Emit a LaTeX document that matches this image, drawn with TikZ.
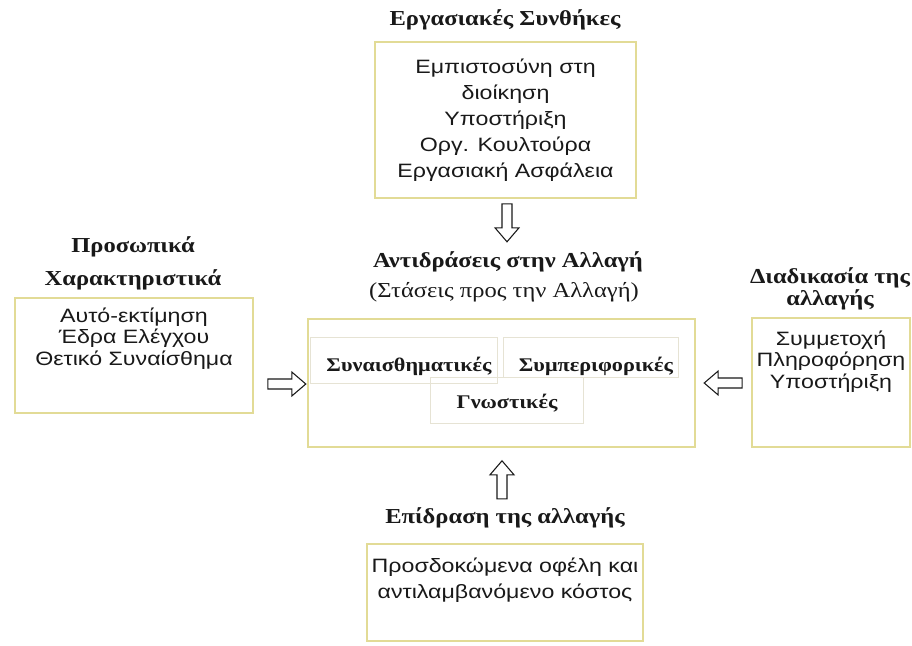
\documentclass[tikz,border=0pt]{standalone}
\usepackage{fontspec}
\setmainfont{Liberation Serif}[FakeStretch=1.15]
\newfontfamily\bodyfont{Liberation Sans}[FakeStretch=1.2]
\usetikzlibrary{calc}
\definecolor{boxyellow}{RGB}{226,219,150}
\definecolor{innergray}{RGB}{230,227,212}
\definecolor{ink}{RGB}{25,25,25}
\begin{document}
\begin{tikzpicture}[x=0.75pt,y=-0.75pt,
  outerbox/.style={draw=boxyellow, line width=1.2pt, inner sep=0pt, anchor=center},
  innerbox/.style={draw=innergray, line width=0.6pt, inner sep=0pt, anchor=center},
  ttl/.style={font=\fontsize{16}{19}\selectfont\bfseries, text=ink, inner sep=0pt, anchor=center},
  subttl/.style={font=\fontsize{16}{19}\selectfont, text=ink, inner sep=0pt, anchor=center},
  lbl/.style={font=\fontsize{14.5}{17}\selectfont\bfseries, text=ink, inner sep=0pt, anchor=center},
  body/.style={font=\bodyfont\fontsize{14.5}{19.5}\selectfont, text=ink, align=center, inner sep=0pt, anchor=center},
  tightbody/.style={body, font=\bodyfont\fontsize{14.5}{16.3}\selectfont},
  blk/.pic={\draw[line width=0.8pt, draw=ink, fill=white] (0,-5) -- (24,-5) -- (24,-12) -- (38,0) -- (24,12) -- (24,5) -- (0,5) -- cycle;}
]
\useasboundingbox (0,0) rectangle (912,645);
% top group
\node[ttl] (ttop) at (505,20) {Εργασιακές Συνθήκες};
\node[outerbox, minimum width=195.75pt, minimum height=117pt] (btop) at (505.5,120) {};
\node[body] (xtop) at (btop.center) {Εμπιστοσύνη στη\\διοίκηση\\Υποστήριξη\\Οργ. Κουλτούρα\\Εργασιακή Ασφάλεια};
% centre group
\node[ttl] (tcen) at (508,262) {Αντιδράσεις στην Αλλαγή};
\node[subttl] (tcen2) at (504,292) {(Στάσεις προς την Αλλαγή)};
\node[outerbox, minimum width=290.25pt, minimum height=96pt] (bcen) at (501.5,383) {};
\node[innerbox, minimum width=140.25pt, minimum height=34.5pt] (iemo) at (403.5,360) {};
\node[innerbox, minimum width=131.25pt, minimum height=30pt] (ibeh) at (590.5,357) {};
\node[innerbox, minimum width=114.75pt, minimum height=34.5pt] (icog) at (506.5,400) {};
\node[lbl] (temo) at (409,366) {Συναισθηματικές};
\node[lbl] (tbeh) at (596,366) {Συμπεριφορικές};
\node[lbl] (tcog) at (507,403) {Γνωστικές};
% left group
\node[ttl] (tl1) at (133,247) {Προσωπικά};
\node[ttl] (tl2) at (133,280) {Χαρακτηριστικά};
\node[outerbox, minimum width=178.5pt, minimum height=86.25pt] (bleft) at (134,355.5) {};
\node[tightbody] (xleft) at (134,338.5) {Αυτό-εκτίμηση\\Έδρα Ελέγχου\\Θετικό Συναίσθημα};
% right group
\node[ttl] (tr1) at (830,278) {Διαδικασία της};
\node[ttl] (tr2) at (830,300) {αλλαγής};
\node[outerbox, minimum width=118.5pt, minimum height=96.75pt] (bright) at (831,382.5) {};
\node[tightbody] (xright) at (831,361.5) {Συμμετοχή\\Πληροφόρηση\\Υποστήριξη};
% bottom group
\node[ttl] (tbot) at (505,518) {Επίδραση της αλλαγής};
\node[outerbox, minimum width=207pt, minimum height=72.75pt] (bbot) at (505,592.5) {};
\node[body] (xbot) at (505,580) {Προσδοκώμενα οφέλη και\\αντιλαμβανόμενο κόστος};
% block arrows between groups
\coordinate (adown) at ($(btop.south)+(1.5,5)$);
\pic[rotate=-90] at (adown) {blk};
\coordinate (aright) at ($(bleft.east |- bcen.center)+(14,1)$);
\pic at (aright) {blk};
\coordinate (aleft) at ($(bright.west |- bcen.center)+(-9,0)$);
\pic[rotate=180] at (aleft) {blk};
\coordinate (aup) at ($(bcen.south)+(0.5,51)$);
\pic[rotate=90] at (aup) {blk};
\end{tikzpicture}
\end{document}
